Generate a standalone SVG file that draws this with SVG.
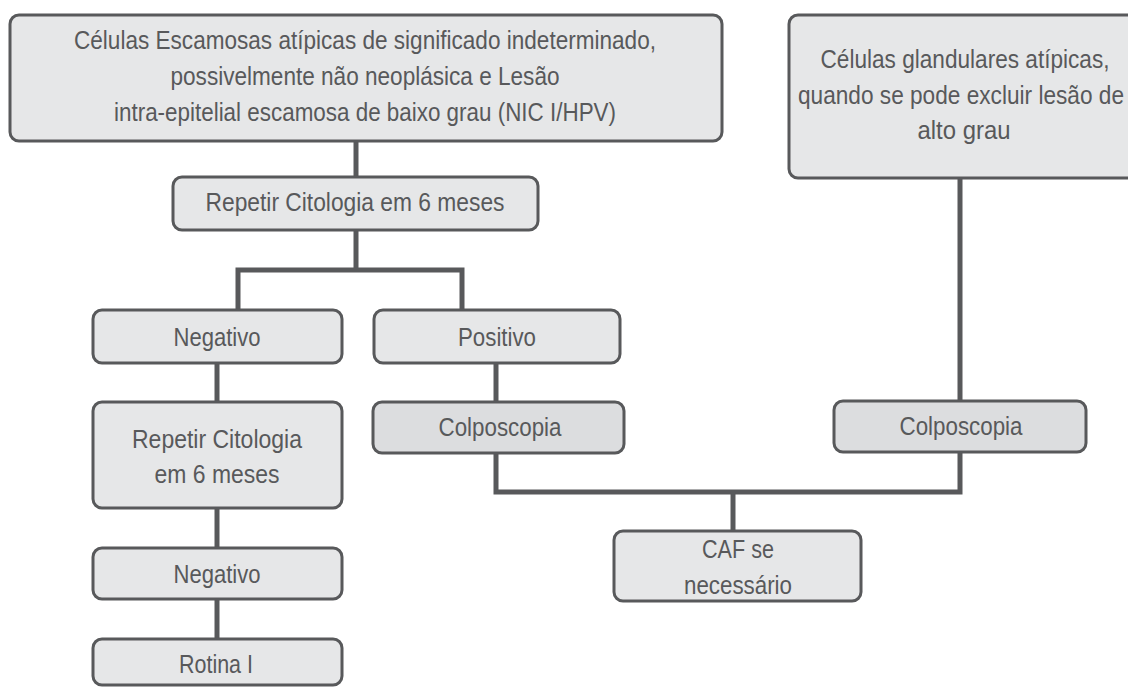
<svg xmlns="http://www.w3.org/2000/svg" width="1128" height="688" viewBox="0 0 1128 688">
<style>
.box{fill:#e6e7e8;stroke:#58595b;stroke-width:3}
.box2{fill:#dcdddf;stroke:#58595b;stroke-width:3}
.t{font-family:"Liberation Sans",Arial,sans-serif;font-size:25px;fill:#58595b;text-anchor:middle}
.c{fill:none;stroke:#58595b;stroke-width:5;stroke-linecap:butt;stroke-linejoin:miter}
</style>
<rect width="1128" height="688" fill="#ffffff"/>
<g id="connectors">
<path class="c" d="M356 141 V177"/>
<path class="c" d="M356 230 V270 M238 310 V270 H462 V310"/>
<path class="c" d="M217 363 V402"/>
<path class="c" d="M217 508 V548"/>
<path class="c" d="M217 599 V639"/>
<path class="c" d="M496 363 V402"/>
<path class="c" d="M496 453 V492 H960 V452"/>
<path class="c" d="M960 178 V401"/>
<path class="c" d="M733 492 V531"/>
</g>
<g id="n1">
<rect class="box" x="10" y="15" width="712" height="126" rx="9"/>
<text class="t" x="365" y="49" textLength="582" lengthAdjust="spacingAndGlyphs">Células Escamosas atípicas de significado indeterminado,</text>
<text class="t" x="365" y="85" textLength="389" lengthAdjust="spacingAndGlyphs">possivelmente não neoplásica e Lesão</text>
<text class="t" x="365" y="121" textLength="502" lengthAdjust="spacingAndGlyphs">intra-epitelial escamosa de baixo grau (NIC I/HPV)</text>
</g>
<g id="n2">
<rect class="box" x="789" y="15" width="360" height="163" rx="9"/>
<text class="t" x="965" y="68" textLength="289" lengthAdjust="spacingAndGlyphs">Células glandulares atípicas,</text>
<text class="t" x="961" y="104" textLength="326" lengthAdjust="spacingAndGlyphs">quando se pode excluir lesão de</text>
<text class="t" x="964" y="139" textLength="93" lengthAdjust="spacingAndGlyphs">alto grau</text>
</g>
<g id="n3">
<rect class="box" x="173" y="177" width="365" height="53" rx="9"/>
<text class="t" x="355" y="211" textLength="299" lengthAdjust="spacingAndGlyphs">Repetir Citologia em 6 meses</text>
</g>
<g id="n4">
<rect class="box" x="93" y="310" width="249" height="53" rx="9"/>
<text class="t" x="217" y="346" textLength="87" lengthAdjust="spacingAndGlyphs">Negativo</text>
</g>
<g id="n5">
<rect class="box" x="374" y="310" width="246" height="53" rx="9"/>
<text class="t" x="497" y="346" textLength="78" lengthAdjust="spacingAndGlyphs">Positivo</text>
</g>
<g id="n6">
<rect class="box" x="93" y="402" width="249" height="106" rx="9"/>
<text class="t" x="217" y="448" textLength="170" lengthAdjust="spacingAndGlyphs">Repetir Citologia</text>
<text class="t" x="217" y="483" textLength="125" lengthAdjust="spacingAndGlyphs">em 6 meses</text>
</g>
<g id="n7">
<rect class="box2" x="373" y="402" width="251" height="51" rx="9"/>
<text class="t" x="500" y="436" textLength="123" lengthAdjust="spacingAndGlyphs">Colposcopia</text>
</g>
<g id="n8">
<rect class="box2" x="834" y="401" width="252" height="51" rx="9"/>
<text class="t" x="961" y="435" textLength="123" lengthAdjust="spacingAndGlyphs">Colposcopia</text>
</g>
<g id="n9">
<rect class="box" x="93" y="548" width="249" height="51" rx="9"/>
<text class="t" x="217" y="583" textLength="87" lengthAdjust="spacingAndGlyphs">Negativo</text>
</g>
<g id="n10">
<rect class="box" x="614" y="531" width="247" height="70" rx="9"/>
<text class="t" x="738" y="558" textLength="72" lengthAdjust="spacingAndGlyphs">CAF se</text>
<text class="t" x="738" y="594" textLength="108" lengthAdjust="spacingAndGlyphs">necessário</text>
</g>
<g id="n11">
<rect class="box" x="93" y="639" width="249" height="46" rx="9"/>
<text class="t" x="216" y="673" textLength="74" lengthAdjust="spacingAndGlyphs">Rotina I</text>
</g>
</svg>
